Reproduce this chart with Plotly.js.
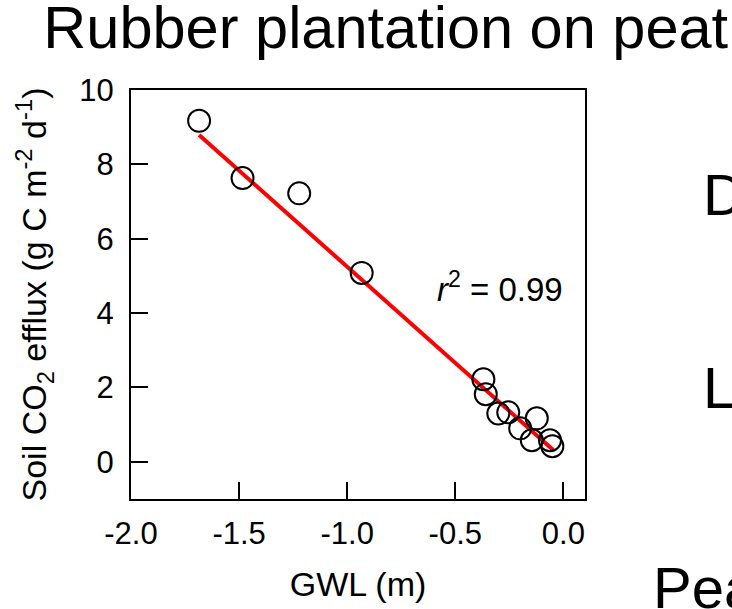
<!DOCTYPE html>
<html>
<head>
<meta charset="utf-8">
<script src="https://cdn.plot.ly/plotly-3.0.1.min.js"></script>
<style>html,body{margin:0;padding:0;background:#fff;} #chart{width:732px;height:609px;}</style>
</head>
<body>
<div id="chart"></div>
<script>
// Observations: groundwater level (m) and soil CO2 efflux (g C m-2 d-1)
const gwl    = [-1.685, -1.484, -1.222, -0.933, -0.370, -0.359, -0.301, -0.255, -0.200, -0.123, -0.146, -0.062, -0.051];
const efflux = [9.17, 7.63, 7.22, 5.08, 2.22, 1.82, 1.30, 1.33, 0.90, 1.17, 0.58, 0.58, 0.42];
// Regression line end points
const fitX = [-1.685, -0.046];
const fitY = [8.79, 0.31];
// Tick values and labels
const xTickVals = [-2.0, -1.5, -1.0, -0.5, 0.0];
const xTickText = ["-2.0", "-1.5", "-1.0", "-0.5", "0.0"];
const yTickVals = [0, 2, 4, 6, 8, 10];
const yTickText = ["0", "2", "4", "6", "8", "10"];

const FONT = "Liberation Sans, Arial, Helvetica, sans-serif";

const traces = [
  {x: fitX, y: fitY, mode: "lines", type: "scatter",
   line: {color: "#ff0000", width: 4}, hoverinfo: "skip", showlegend: false},
  {x: gwl, y: efflux, mode: "markers", type: "scatter",
   marker: {symbol: "circle-open", size: 22, color: "#000", line: {width: 2, color: "#000"}},
   showlegend: false}
];

const layout = {
  width: 732, height: 609,
  margin: {l: 131, r: 147, t: 90, b: 110, pad: 0},
  paper_bgcolor: "#fff", plot_bgcolor: "#fff",
  font: {family: FONT, color: "#000", size: 31},
  showlegend: false,
  title: {text: "Rubber plantation on peat", font: {family: FONT, size: 59.5, color: "#000"},
          xref: "container", yref: "container", x: 0.527, xanchor: "center", y: 0.955, yanchor: "middle"},
  xaxis: {
    range: [-2.0, 0.1], tickmode: "array", tickvals: xTickVals, ticktext: xTickText,
    ticks: "inside", ticklen: 17, tickwidth: 2, tickcolor: "#000",
    showline: true, linewidth: 2, linecolor: "#000", mirror: true,
    showgrid: false, zeroline: false, ticklabelstandoff: 6,
    tickfont: {family: FONT, size: 31, color: "#000"},
    title: {text: "GWL (m)", font: {family: FONT, size: 34, color: "#000"}, standoff: 22}
  },
  yaxis: {
    range: [-1.0, 10.0], tickmode: "array", tickvals: yTickVals, ticktext: yTickText,
    ticks: "inside", ticklen: 17, tickwidth: 2, tickcolor: "#000",
    showline: true, linewidth: 2, linecolor: "#000", mirror: true,
    showgrid: false, zeroline: false, ticklabelstandoff: 9,
    tickfont: {family: FONT, size: 31, color: "#000"},
    title: {text: "Soil CO<sub>2</sub> efflux (g C m<sup>-2</sup> d<sup>-1</sup>)",
            font: {family: FONT, size: 34, color: "#000"}, standoff: 22}
  },
  annotations: [
    {text: "<i>r</i><sup>2</sup> = 0.99", x: 0.008, y: 4.69, xref: "x", yref: "y",
     xanchor: "right", yanchor: "middle", showarrow: false, font: {family: FONT, size: 33, color: "#000"}},
    {text: "D", x: 1.255, y: 0.745, xref: "paper", yref: "paper", xanchor: "left", yanchor: "middle",
     showarrow: false, font: {family: FONT, size: 58, color: "#000"}},
    {text: "L", x: 1.255, y: 0.2726, xref: "paper", yref: "paper", xanchor: "left", yanchor: "middle",
     showarrow: false, font: {family: FONT, size: 58, color: "#000"}},
    {text: "Pea", x: 1.145, y: -0.2176, xref: "paper", yref: "paper", xanchor: "left", yanchor: "middle",
     showarrow: false, font: {family: FONT, size: 58, color: "#000"}}
  ]
};

Plotly.newPlot("chart", traces, layout, {displayModeBar: false, staticPlot: true});
</script>
</body>
</html>
